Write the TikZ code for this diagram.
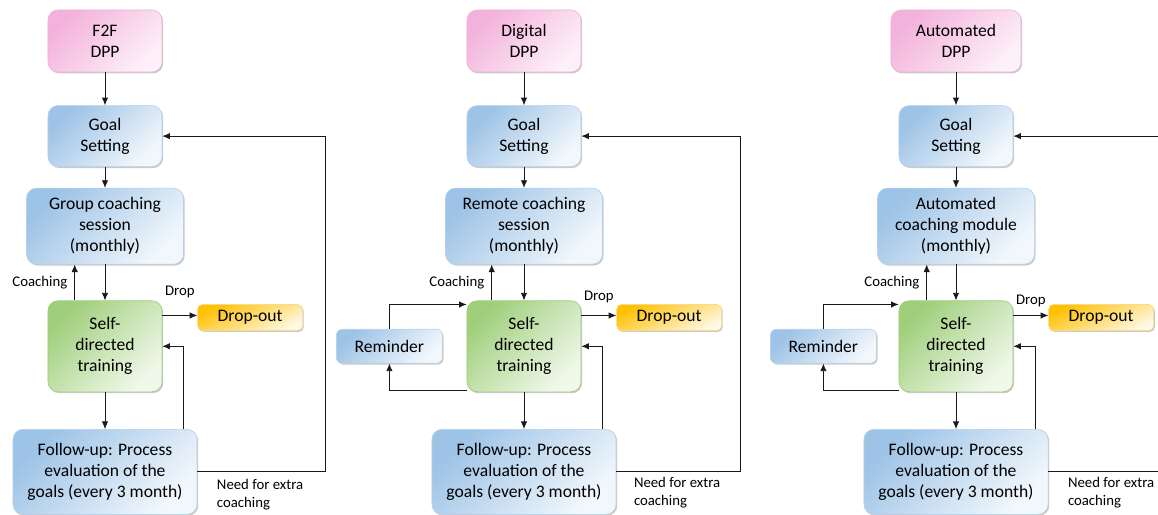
\documentclass[tikz,border=0pt]{standalone}
\usepackage{fontspec}
\setmainfont{Carlito}
\usetikzlibrary{arrows.meta, positioning, shadows}

\definecolor{pinkdark}{HTML}{F3B2DB}
\definecolor{pinklight}{HTML}{FDF0F8}
\definecolor{pinkbd}{HTML}{F0B0D8}
\definecolor{bluedark}{HTML}{9DC3E6}
\definecolor{bluelight}{HTML}{F2F7FC}
\definecolor{bluebd}{HTML}{B4D0EC}
\definecolor{greendark}{HTML}{A0CF7C}
\definecolor{greenlight}{HTML}{F0F8EA}
\definecolor{greenbd}{HTML}{9CCC78}
\definecolor{orangedark}{HTML}{FFC000}
\definecolor{orangemid}{HTML}{FFE8A0}
\definecolor{orangelight}{HTML}{FFF8E4}
\definecolor{orangebd}{HTML}{F7DC90}

\begin{document}
\begin{tikzpicture}[
  x=0.025cm, y=-0.025cm,
  shade/.style={drop shadow={shadow xshift=0.8pt, shadow yshift=-1pt, opacity=0.35, fill=black!60}},
  box/.style={rectangle, draw=bluebd, top color=bluedark, bottom color=bluelight, shading angle=45, shade, rounded corners=0.25cm, align=center, inner sep=2pt, font=\fontsize{12.5}{15}\selectfont},
  start/.style={box, draw=pinkbd, top color=pinkdark, bottom color=pinklight, shading angle=45, minimum width=2.85cm, minimum height=1.55cm},
  goal/.style={box, minimum width=2.85cm, minimum height=1.525cm},
  coach/.style={box, minimum width=3.925cm, minimum height=1.9cm},
  train/.style={box, draw=greenbd, top color=greendark, bottom color=greenlight, shading angle=45, minimum width=2.85cm, minimum height=2.275cm},
  follow/.style={box, minimum width=4.6cm, minimum height=2.125cm},
  remind/.style={box, rounded corners=0.15cm, minimum width=2.65cm, minimum height=0.85cm},
  drop/.style={box, draw=orangebd, top color=orangedark, middle color=orangemid, bottom color=orangelight, shading angle=25, rounded corners=0.12cm, minimum width=2.625cm, minimum height=0.65cm},
  lbl/.style={font=\fontsize{10.5}{12.5}\selectfont, inner sep=1pt},
  arrow/.style={-{Latex[length=1.9mm, width=1.6mm]}, line width=0.6pt, draw=black!90}
]
\clip (0,0) rectangle (1158,514);

% F2F DPP
\node (dppF) [start] at (105,41) {F2F\\DPP};
\node (goalF) [goal, below=0.825cm of dppF] {Goal\\Setting};
\node (coachF) [coach, below=0.525cm of goalF] {Group coaching\\session\\(monthly)};
\node (selfF) [train, below=0.9cm of coachF] {Self-\\directed\\training};
\node (followF) [follow, below=0.925cm of selfF] {Follow-up: Process\\evaluation of the\\goals (every 3 month)};
\node (dropF) [drop, right=0.875cm of selfF.north east, yshift=-0.425cm] {Drop-out};

\draw [arrow] (dppF) -- (goalF);
\draw [arrow] (goalF) -- (coachF);
\draw [arrow] (coachF) -- (selfF);
\draw [arrow] ([xshift=0.675cm]selfF.north west) -- ([xshift=0.675cm]selfF.north west |- coachF.south) node[midway, left=4pt, lbl] (coachlblF) {Coaching};
\draw [arrow] ([yshift=-0.375cm]selfF.north east) -- ([yshift=-0.375cm]selfF.north east -| dropF.west) node[midway, above=0.4cm, lbl] (droplblF) {Drop};
\draw [arrow] (selfF) -- (followF);
\draw [arrow] ([xshift=-0.35cm]followF.north east) |- (selfF.east);
\draw [arrow] (followF.east) -- ++(3.2cm,0) |- (goalF.east);
\node (needF) [lbl, below right, align=left] at ([xshift=0.45cm, yshift=-0.15cm]followF.east) {Need for extra\\coaching};

% Digital DPP
\node (dppD) [start] at (524,41) {Digital\\DPP};
\node (goalD) [goal, below=0.825cm of dppD] {Goal\\Setting};
\node (coachD) [coach, below=0.525cm of goalD] {Remote coaching\\session\\(monthly)};
\node (selfD) [train, below=0.9cm of coachD] {Self-\\directed\\training};
\node (followD) [follow, below=0.925cm of selfD] {Follow-up: Process\\evaluation of the\\goals (every 3 month)};
\node (dropD) [drop, right=0.875cm of selfD.north east, yshift=-0.425cm] {Drop-out};
\node (remD) [remind, left=0.6cm of selfD] {Reminder};

\draw [arrow] (dppD) -- (goalD);
\draw [arrow] (goalD) -- (coachD);
\draw [arrow] (coachD) -- (selfD);
\draw [arrow] ([xshift=0.625cm]selfD.north west) -- ([xshift=0.625cm]selfD.north west |- coachD.south) node[midway, left=4pt, lbl] (coachlblD) {Coaching};
\draw [arrow] ([yshift=-0.375cm]selfD.north east) -- ([yshift=-0.375cm]selfD.north east -| dropD.west) node[midway, above=0.28cm, lbl] (droplblD) {Drop};
\draw [arrow] (selfD) -- (followD);
\draw [arrow] ([xshift=-0.35cm]followD.north east) |- (selfD.east);
\draw [arrow] (followD.east) -- ++(3.1cm,0) |- (goalD.east);
\draw [arrow] (remD.north) |- ([yshift=-0.1cm]selfD.north west);
\draw [arrow] ([yshift=0.03cm]selfD.south west) -| (remD.south);
\node (needD) [lbl, below right, align=left] at ([xshift=0.4cm, yshift=-0.1cm]followD.east) {Need for extra\\coaching};

% Automated DPP
\node (dppA) [start, minimum width=3.25cm] at (956,41) {Automated\\DPP};
\node (goalA) [goal, below=0.825cm of dppA] {Goal\\Setting};
\node (coachA) [coach, below=0.525cm of goalA] {Automated\\coaching module\\(monthly)};
\node (selfA) [train, below=0.9cm of coachA] {Self-\\directed\\training};
\node (followA) [follow, below=0.925cm of selfA] {Follow-up: Process\\evaluation of the\\goals (every 3 month)};
\node (dropA) [drop, right=0.875cm of selfA.north east, yshift=-0.425cm] {Drop-out};
\node (remA) [remind, left=0.55cm of selfA] {Reminder};

\draw [arrow] (dppA) -- (goalA);
\draw [arrow] (goalA) -- (coachA);
\draw [arrow] (coachA) -- (selfA);
\draw [arrow] ([xshift=0.7cm]selfA.north west) -- ([xshift=0.7cm]selfA.north west |- coachA.south) node[midway, left=4pt, lbl] (coachlblA) {Coaching};
\draw [arrow] ([yshift=-0.375cm]selfA.north east) -- ([yshift=-0.375cm]selfA.north east -| dropA.west) node[midway, above=0.18cm, lbl] (droplblA) {Drop};
\draw [arrow] (selfA) -- (followA);
\draw [arrow] ([xshift=-0.325cm]followA.north east) |- (selfA.east);
\draw [arrow] (followA.east) -- ++(3.2cm,0) |- (goalA.east);
\draw [arrow] (remA.north) |- ([yshift=-0.1cm]selfA.north west);
\draw [arrow] ([yshift=0.03cm]selfA.south west) -| (remA.south);
\node (needA) [lbl, below right, align=left] at ([xshift=0.45cm, yshift=-0.1cm]followA.east) {Need for extra\\coaching};
\end{tikzpicture}
\end{document}
